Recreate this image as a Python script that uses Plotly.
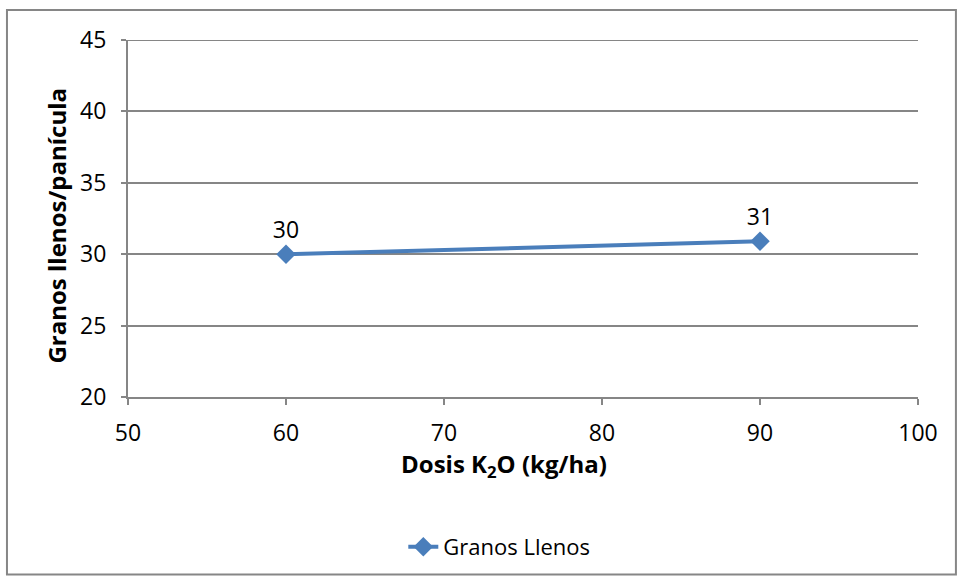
import plotly.graph_objects as go

dosis = [60, 90]
granos = [30, 30.9]
etiquetas = ["30", "31"]
serie = "Granos Llenos"
x_titulo = "Dosis K<sub>2</sub>O (kg/ha)"
y_titulo = "Granos llenos/panícula"

color = "#4A7EBB"
gris = "#868686"
font = "Open Sans"

fig = go.Figure()
fig.add_trace(go.Scatter(
    x=dosis, y=granos, mode="lines+markers+text", name=serie,
    text=etiquetas, textposition="top center",
    textfont=dict(size=23, color="#000000", family=font),
    line=dict(color=color, width=4),
    marker=dict(symbol="diamond", size=15, color=color),
))

fig.update_layout(
    width=958, height=579,
    margin=dict(l=128, r=40, t=40, b=181),
    paper_bgcolor="white", plot_bgcolor="white",
    font=dict(family=font, size=22, color="#000000"),
    showlegend=True,
    legend=dict(orientation="h", x=0.47, y=-0.416, xanchor="center", yanchor="middle",
                font=dict(size=22, family=font, color="#000000")),
    xaxis=dict(range=[50, 100], dtick=10, showgrid=False, zeroline=False,
               showline=True, linecolor=gris, linewidth=2,
               ticks="outside", ticklen=6, tickcolor=gris, tickwidth=2,
               ticklabelstandoff=8,
               tickfont=dict(size=23, family=font, color="#000000")),
    yaxis=dict(range=[20, 45], dtick=5, showgrid=True, gridcolor=gris, gridwidth=2,
               zeroline=False, showline=True, linecolor=gris, linewidth=2,
               ticks="outside", ticklen=5, tickcolor=gris, tickwidth=2,
               ticklabelstandoff=10,
               tickfont=dict(size=23, family=font, color="#000000")),
    annotations=[
        dict(text="<b>" + x_titulo + "</b>", xref="paper", yref="paper",
             x=0.476, y=-0.19, xanchor="center", yanchor="middle", showarrow=False,
             font=dict(size=24, family=font, color="#000000")),
        dict(text="<b>" + y_titulo + "</b>", xref="paper", yref="paper",
             x=-0.09, y=0.48, xanchor="center", yanchor="middle", showarrow=False,
             textangle=-90, font=dict(size=24, family=font, color="#000000")),
    ],
    shapes=[
        dict(type="line", xref="paper", yref="y", x0=0, x1=1, y0=45, y1=45,
             line=dict(color=gris, width=2)),
        dict(type="rect", xref="paper", yref="paper",
             x0=-0.1532, x1=1.048, y0=-0.497, y1=1.0838,
             line=dict(color=gris, width=2), fillcolor="rgba(0,0,0,0)", layer="below"),
    ],
)

fig.write_html("out.html")
